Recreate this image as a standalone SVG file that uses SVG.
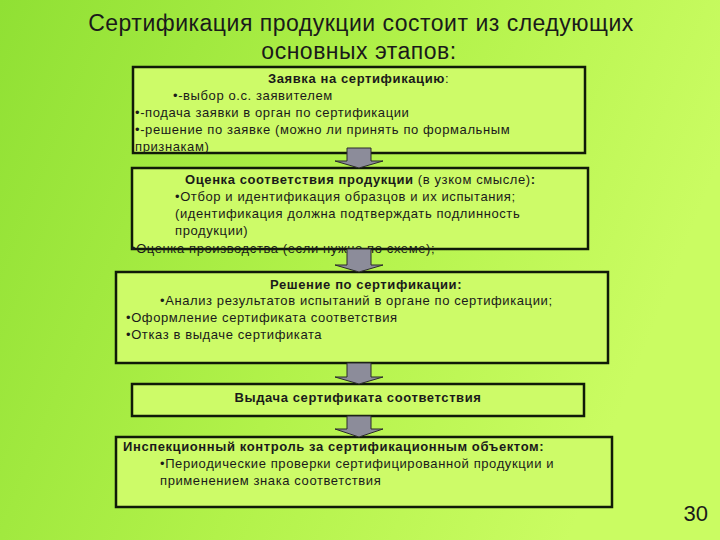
<svg xmlns="http://www.w3.org/2000/svg" width="720" height="540" viewBox="0 0 720 540">
<defs>
<linearGradient id="bg" x1="0" y1="0" x2="1" y2="0.3">
<stop offset="0" stop-color="#90e034"/>
<stop offset="0.55" stop-color="#b2f24a"/>
<stop offset="1" stop-color="#cafc62"/>
</linearGradient>
<style>
.box{fill:#cdfb68;stroke:#101a08;stroke-width:2.5}
.t{font-family:"Liberation Sans",Arial,sans-serif;font-size:13px;letter-spacing:0.6px;fill:#1a1a1a}
.b{font-weight:bold}
.title{font-family:"Liberation Sans",Arial,sans-serif;font-size:23px;letter-spacing:0.5px;fill:#1a1a1a;text-anchor:middle}
.arrow{fill:#8c8c9a;stroke:#2a2a2a;stroke-width:1}
</style>
</defs>
<rect width="720" height="540" fill="url(#bg)"/>
<text class="title" x="361" y="31">Сертификация продукции состоит из следующих</text>
<text class="title" x="359" y="59">основных этапов:</text>

<g id="node1">
<rect class="box" x="133" y="67" width="452" height="86"/>
<text class="t" x="268" y="83"><tspan class="b">Заявка на сертификацию</tspan>:</text>
<text class="t" x="173" y="100">•-выбор о.с. заявителем</text>
<text class="t" x="135" y="117">•-подача заявки в орган по сертификации</text>
<text class="t" x="135" y="134">•-решение по заявке (можно ли принять по формальным</text>
<text class="t" x="135" y="151">признакам)</text>
</g>

<g id="node2">
<rect class="box" x="132" y="168" width="456" height="81"/>
<text class="t" x="185" y="184"><tspan class="b">Оценка соответствия продукции</tspan> (в узком смысле)<tspan class="b">:</tspan></text>
<text class="t" x="175" y="201">•Отбор и идентификация образцов и их испытания;</text>
<text class="t" x="175" y="218">(идентификация должна подтверждать подлинность</text>
<text class="t" x="175" y="235">продукции)</text>
<text class="t" x="131" y="253">•Оценка производства (если нужно по схеме);</text>
</g>

<g id="node3">
<rect class="box" x="116" y="272" width="492" height="91"/>
<text class="t b" x="270" y="289">Решение по сертификации:</text>
<text class="t" x="160" y="305">•Анализ результатов испытаний в органе по сертификации;</text>
<text class="t" x="126" y="322">•Оформление сертификата соответствия</text>
<text class="t" x="126" y="339">•Отказ в выдаче сертификата</text>
</g>

<g id="node4">
<rect class="box" x="132" y="384" width="452" height="32"/>
<text class="t b" x="358" y="402" text-anchor="middle">Выдача сертификата соответствия</text>
</g>

<g id="node5">
<rect class="box" x="116" y="437" width="496" height="70"/>
<text class="t b" x="123" y="451">Инспекционный контроль за сертификационным объектом:</text>
<text class="t" x="160" y="468">•Периодические проверки сертифицированной продукции и</text>
<text class="t" x="160" y="485">применением знака соответствия</text>
</g>

<g id="connectors">
<polygon class="arrow" points="347,148 371,148 371,161 383,161 359,168 335,161 347,161"/>
<polygon class="arrow" points="347,249 371,249 371,265 383,265 359,272 335,265 347,265"/>
<polygon class="arrow" points="347,363 371,363 371,377 383,377 359,384 335,377 347,377"/>
<polygon class="arrow" points="347,416 371,416 371,429 383,429 359,437 335,429 347,429"/>
</g>

<text x="708" y="521" font-family="'Liberation Sans',Arial,sans-serif" font-size="22" fill="#1a1a1a" text-anchor="end">30</text>
</svg>
